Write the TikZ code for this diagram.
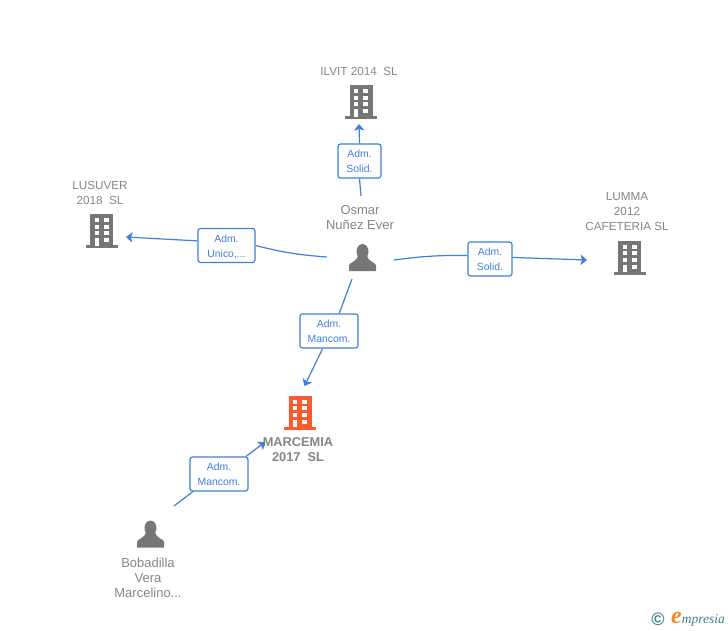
\documentclass[tikz,border=0pt]{standalone}
\usepackage{fontspec}
\setmainfont{Liberation Sans}
\newfontfamily\logofont{Liberation Serif}
\usetikzlibrary{arrows.meta}
\definecolor{linkblue}{HTML}{3F7FDC}
\definecolor{icongray}{HTML}{767676}
\definecolor{textgray}{HTML}{858585}
\definecolor{iconorange}{HTML}{FF5A2C}
\definecolor{logoteal}{HTML}{3C7F94}
\definecolor{logoorange}{HTML}{F08A24}
\newcommand{\roletext}[2]{\rule{0pt}{11pt}#1\\#2\rule[-3pt]{0pt}{0pt}}

\begin{document}
\begin{tikzpicture}[x=1pt,y=-1pt]
        \tikzset{building/.style = {minimum width=34,minimum height=36,inner sep=0,path picture={
                \begin{scope}[shift={(path picture bounding box.center)}]
                \fill[#1] (-11.5,-17) rectangle (11.5,15);
                \fill[#1] (-16,14) rectangle (16,17);
                \fill[white] (-7,-13) rectangle (-3,-9);
                \fill[white] (2,-13) rectangle (7,-9);
                \fill[white] (-7,-6.5) rectangle (-3,-2.5);
                \fill[white] (2,-6.5) rectangle (7,-2.5);
                \fill[white] (-7,0) rectangle (-3,4);
                \fill[white] (2,0) rectangle (7,4);
                \fill[white] (-7,7) rectangle (-3,14.5);
                \fill[white] (2,7) rectangle (7,11);
                \end{scope}}}}
        \tikzset{person/.style = {minimum size=28,inner sep=0,path picture={
                \begin{scope}[shift={(path picture bounding box.center)}]
                \fill[icongray] (0,-6) ellipse (6 and 7.5);
                \fill[icongray] (-13.5,13.5) -- (-13.5,8) .. controls (-13.5,4.5) and (-5,5) .. (-4.5,-3) -- (4.5,-3) .. controls (5,5) and (13.5,4.5) .. (13.5,8) -- (13.5,13.5) -- cycle;
                \end{scope}}}}
        \tikzset{role/.style = {draw=linkblue,fill=white,rounded corners=2.5,line width=1.2,inner sep=0,minimum height=34,text=linkblue,align=center,font=\fontsize{10.4}{15}\selectfont}}
        \tikzset{personname/.style = {text=textgray,align=center,inner sep=0,font=\fontsize{13}{15}\selectfont}}
        \tikzset{firm/.style = {text=textgray,align=center,inner sep=0,font=\fontsize{11.7}{15}\selectfont}}
        \tikzset{edge/.style = {draw=linkblue,line width=1.2}}
        \tikzset{edged/.style = {edge,-{Stealth[length=6.5,width=10.5,inset=1.5]}}}
        \useasboundingbox (0,0) rectangle (728,630);
        % icons
        \node[building=icongray] (ilvit) at (361,102) {};
        \node[building=icongray] (lusuver) at (101.5,231) {};
        \node[building=icongray] (lumma) at (629.5,257.5) {};
        \node[building=iconorange] (marcemia) at (300,412.5) {};
        \node[person] (osmar) at (362.5,257.5) {};
        \node[person] (bobadilla) at (150.5,534) {};
        % texts
        \node[firm] (ilvittext) at (359,71) {ILVIT 2014\ \ SL};
        \node[firm] (lusuvertext) at (100,193) {LUSUVER\\2018\ \ SL};
        \node[firm] (lummatext) at (627,212) {LUMMA\\2012\\CAFETERIA SL};
        \node[firm,font=\fontsize{12.8}{15}\selectfont\bfseries] (marcemiatext) at (298,449.5) {MARCEMIA\\2017\ \ SL};
        \node[personname] (osmartext) at (360,218) {Osmar\\Nuñez Ever};
        \node[personname] (bobadillatext) at (148,578) {Bobadilla\\Vera\\Marcelino...};
        % roles
        \node[role,minimum width=43] (solidilvit) at (359.5,161) {\roletext{Adm.}{Solid.}};
        \node[role,minimum width=57] (unico) at (226.5,245.5) {\roletext{Adm.}{Unico,...}};
        \node[role,minimum width=44] (solidlumma) at (490,259) {\roletext{Adm.}{Solid.}};
        \node[role,minimum width=58] (mancomosmar) at (329,331) {\roletext{Adm.}{Mancom.}};
        \node[role,minimum width=58] (mancombobadilla) at (219,474) {\roletext{Adm.}{Mancom.}};
        % free ends
        \coordinate (osmarn) at (361,196);
        \coordinate (osmarw) at (327,257);
        \coordinate (osmare) at (394,260);
        \coordinate (osmars) at (352,279);
        \coordinate (bobadillan) at (174,506);
        \coordinate (ilvits) at (359,124);
        \coordinate (lusuvere) at (126,237);
        \coordinate (lummaw) at (587,260);
        \coordinate (marcemian) at (304.5,386);
        \coordinate (marcemiaw) at (265,442);
        %edges undirected
        \draw[edge] (osmarn) to (solidilvit.south);
        \draw[edge] (osmarw) to[bend left=5] (unico.east);
        \draw[edge] (osmare) to[bend left=4] (solidlumma.171);
        \draw[edge] (osmars) to (mancomosmar.60);
        \draw[edge] (bobadillan) to (mancombobadilla.214);
        %edges directed
        \draw[edged] (solidilvit.north) to (ilvits);
        \draw[edged] (unico.171) to (lusuvere);
        \draw[edged] (solidlumma.4) to (lummaw);
        \draw[edged] (mancomosmar.250) to (marcemian);
        \draw[edged] (mancombobadilla.33) to (marcemiaw);
        % logo
        \node[text=logoteal,inner sep=0,font=\fontsize{18}{18}\selectfont\bfseries] (copyright) at (658,619) {©};
        \node[text=logoteal,inner sep=0,anchor=base west,font=\logofont\itshape\fontsize{13.5}{14}\selectfont] (logo) at (671,623.5) {\textcolor{logoorange}{\fontsize{24}{24}\selectfont\bfseries e}mpresia};
\end{tikzpicture}
\end{document}
